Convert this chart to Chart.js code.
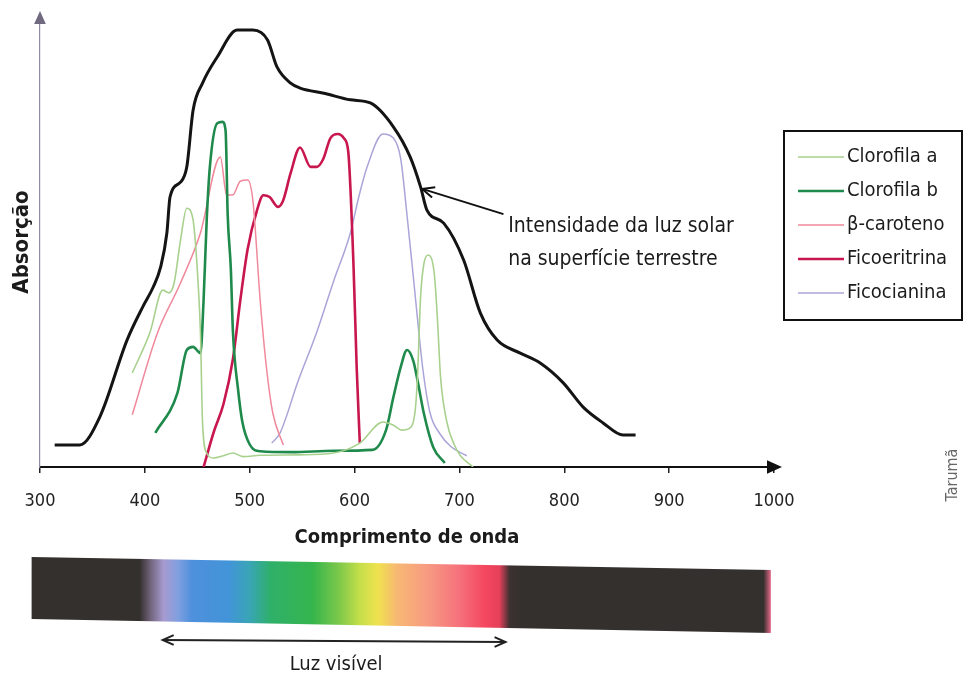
<!DOCTYPE html>
<html>
<head>
<meta charset="utf-8">
<script src="https://cdn.jsdelivr.net/npm/chart.js@4.4.1/dist/chart.umd.min.js"></script>
<style>
  body { margin: 0; background: #fff; }
  canvas { display: block; }
</style>
</head>
<body>
<canvas id="myChart" width="964" height="680"></canvas>
<script>
// wavelength axis (nm) and absorption (arbitrary units, 0-100)
const xMin = 300;
const xMax = 1000;
const xStep = 100;

const solarNm  = [314, 338, 357, 383, 398, 408, 415, 421, 424, 434, 440, 446, 455, 469, 488, 503, 517, 526, 539, 548, 572, 596, 615, 637, 653, 663, 669, 685, 704, 720, 736, 758, 777, 799, 818, 837, 856, 868];
const solarAbs = [4.9, 4.9, 11.1, 28.2, 35.6, 40, 44.4, 52, 60, 63.3, 66.7, 79.3, 85.3, 91.1, 97.1, 97.1, 94.9, 88.9, 85.3, 84.2, 83, 81.6, 80.9, 75.6, 68.9, 62.2, 57.1, 54.2, 46, 34.2, 28.2, 25.3, 23.1, 18.7, 13.3, 9.8, 7.1, 7.1];

const chlANm  = [388, 405, 417, 423, 428, 434, 440, 446, 451, 453, 455, 459, 465, 475, 484, 494, 510, 548, 580, 605, 627, 637, 645, 653, 658, 660, 663, 666, 670, 676, 679, 682, 688, 695, 701, 713];
const chlAAbs = [20.9, 30, 39.3, 38.7, 41, 50.4, 57.5, 54.9, 40, 30, 10, 3.1, 2, 2.5, 3.1, 2.3, 2.6, 2.7, 3.1, 5.3, 10, 9.3, 8.2, 8.7, 13, 20, 38, 45, 47.1, 43, 33, 20, 10, 5, 2.5, 0];

const chlBNm  = [410, 431, 440, 446, 453, 456, 459, 462, 469, 474, 477, 479, 482, 484, 489, 493, 500, 510, 540, 580, 617, 630, 637, 644, 650, 656, 660, 666, 675, 686];
const chlBAbs = [7.6, 16.4, 26, 26.7, 25.3, 37, 55, 66.7, 76.4, 76.7, 74.7, 56, 44, 30, 17, 10, 5, 3.5, 3.3, 3.6, 3.8, 8.2, 15.5, 22.2, 26, 23.6, 19.3, 12, 4.4, 0.9];

const betaNm  = [388, 412, 434, 453, 472, 478, 484, 491, 498, 503, 510, 516, 522, 532];
const betaAbs = [11.6, 29.8, 40.9, 52, 68.9, 60.4, 60.5, 63.5, 63.8, 59.3, 37, 22, 12, 4.9];

const ficoENm  = [456, 466, 475, 484, 491, 498, 507, 513, 519, 527, 532, 539, 548, 558, 564, 570, 577, 584, 590, 594, 599, 602, 605];
const ficoEAbs = [0, 8, 14, 24, 37, 48.4, 57.1, 60.4, 60, 57.8, 59.3, 65.3, 71, 66.7, 66.7, 68.4, 73.1, 74, 73, 70, 44.7, 22.2, 5.3];

const ficoCNm  = [521, 529, 546, 564, 580, 596, 604, 612, 627, 637, 644, 650, 657, 665, 672, 681, 692, 707];
const ficoCAbs = [5.3, 7.6, 19, 30, 41.3, 52, 60, 66.7, 74, 73.1, 68.5, 56, 40, 22, 12, 7.5, 4.5, 2.5];

const seriesNames = ['Clorofila a', 'Clorofila b', 'β-caroteno', 'Ficoeritrina', 'Ficocianina'];

// spectrum strip under the axis
const spectrumNm     = [292, 395, 405, 418, 432, 445, 480, 500, 520, 560, 585, 605, 622, 640, 670, 700, 725, 738, 748, 760, 990, 997];
const spectrumColors = ['#34302e', '#34302e', '#6f6279', '#a69bd0', '#7f9fe0', '#4e90dc', '#4294d8', '#39a5b5', '#2fb06a', '#35b54c', '#7cc84a', '#c5df4a', '#efe24e', '#f7b972', '#f79a82', '#f6717b', '#f4465f', '#e6405a', '#3b3131', '#34302e', '#34302e', '#e76a8a'];

const NARROW = '"Liberation Sans Narrow", "DejaVu Sans Condensed", "Liberation Sans", sans-serif';
Chart.defaults.font.family = NARROW;
Chart.defaults.color = '#1b1b1b';

const toPoints = (xs, ys) => xs.map((x, i) => ({ x: x, y: ys[i] }));

function line(label, xs, ys, color, width, inLegend) {
    return {
        label: label,
        data: toPoints(xs, ys),
        borderColor: color,
        backgroundColor: color,
        borderWidth: width,
        pointRadius: 0,
        fill: false,
        cubicInterpolationMode: 'monotone',
        inLegend: inLegend
    };
}

function arrowHead(ctx, x, y, angle, size, filled) {
    ctx.save();
    ctx.translate(x, y);
    ctx.rotate(angle);
    ctx.beginPath();
    ctx.moveTo(-size, -size * 0.45);
    ctx.lineTo(0, 0);
    ctx.lineTo(-size, size * 0.45);
    if (filled) { ctx.closePath(); ctx.fill(); } else { ctx.stroke(); }
    ctx.restore();
}

const extras = {
    id: 'extras',
    afterDraw(chart) {
        const { ctx, chartArea: a, scales: { x, y } } = chart;
        ctx.save();

        // axis arrows
        ctx.fillStyle = '#6f6a80';
        arrowHead(ctx, a.left, a.top - 6, -Math.PI / 2, 13, true);
        ctx.fillStyle = '#111';
        arrowHead(ctx, a.right + 8, a.bottom, 0, 15, true);

        // annotation for the sunlight curve
        const tipX = x.getPixelForValue(664.5), tipY = y.getPixelForValue(61.8);
        const fromX = x.getPixelForValue(742), fromY = y.getPixelForValue(56.2);
        ctx.strokeStyle = '#111';
        ctx.lineWidth = 2;
        ctx.beginPath();
        ctx.moveTo(fromX, fromY);
        ctx.lineTo(tipX, tipY);
        ctx.stroke();
        arrowHead(ctx, tipX, tipY, Math.atan2(tipY - fromY, tipX - fromX), 12, false);
        ctx.fillStyle = '#1b1b1b';
        ctx.font = '21px ' + NARROW;
        ctx.textAlign = 'left';
        ctx.textBaseline = 'alphabetic';
        const tx = x.getPixelForValue(746.5);
        ctx.fillText('Intensidade da luz solar', tx, y.getPixelForValue(52.2));
        ctx.fillText('na superfície terrestre', tx, y.getPixelForValue(44.9));

        // legend box
        ctx.lineWidth = 2;
        ctx.strokeStyle = '#111';
        ctx.strokeRect(784, 131, 178, 189);
        ctx.textBaseline = 'middle';
        ctx.font = '20px ' + NARROW;
        chart.data.datasets.filter(d => d.inLegend).forEach((d, i) => {
            const ry = 157 + i * 34;
            ctx.strokeStyle = d.borderColor;
            ctx.lineWidth = d.borderWidth;
            ctx.beginPath();
            ctx.moveTo(798, ry);
            ctx.lineTo(844, ry);
            ctx.stroke();
            ctx.fillStyle = '#1b1b1b';
            ctx.fillText(d.label, 847, ry);
        });

        // spectrum strip
        const x0 = x.getPixelForValue(spectrumNm[0]);
        const x1 = x.getPixelForValue(spectrumNm[spectrumNm.length - 1]);
        const span = spectrumNm[spectrumNm.length - 1] - spectrumNm[0];
        const grad = ctx.createLinearGradient(x0, 0, x1, 0);
        spectrumNm.forEach((nm, i) => grad.addColorStop((nm - spectrumNm[0]) / span, spectrumColors[i]));
        ctx.fillStyle = grad;
        ctx.beginPath();
        ctx.moveTo(x0, 557);
        ctx.lineTo(x1, 570);
        ctx.lineTo(x1, 633);
        ctx.lineTo(x0, 619);
        ctx.closePath();
        ctx.fill();

        // visible light arrow
        const v0 = x.getPixelForValue(417), v1 = x.getPixelForValue(744);
        ctx.strokeStyle = '#222';
        ctx.lineWidth = 2;
        ctx.beginPath();
        ctx.moveTo(v0, 640);
        ctx.lineTo(v1, 642);
        ctx.stroke();
        arrowHead(ctx, v0, 640, Math.PI, 11, false);
        arrowHead(ctx, v1, 642, 0, 11, false);
        ctx.fillStyle = '#1b1b1b';
        ctx.font = '20px ' + NARROW;
        ctx.textAlign = 'center';
        ctx.fillText('Luz visível', (v0 + v1) / 2 + 2, 665);

        // credit
        ctx.save();
        ctx.translate(953, 475);
        ctx.rotate(-Math.PI / 2);
        ctx.fillStyle = '#666';
        ctx.font = '16px ' + NARROW;
        ctx.fillText('Tarumã', 0, 0);
        ctx.restore();

        ctx.restore();
    }
};

const ctx = document.getElementById('myChart').getContext('2d');
const chart = new Chart(ctx, {
    type: 'line',
    data: {
        datasets: [
            line('Intensidade da luz solar', solarNm, solarAbs, '#141414', 3, false),
            line(seriesNames[0], chlANm, chlAAbs, '#a9d18e', 1.6, true),
            line(seriesNames[1], chlBNm, chlBAbs, '#1f8a4c', 2.6, true),
            line(seriesNames[2], betaNm, betaAbs, '#f0899b', 1.5, true),
            line(seriesNames[3], ficoENm, ficoEAbs, '#c8174f', 2.6, true),
            line(seriesNames[4], ficoCNm, ficoCAbs, '#aaa5d8', 1.5, true)
        ]
    },
    options: {
        responsive: false,
        animation: false,
        devicePixelRatio: 1,
        layout: { padding: { left: 0, right: 190, top: 17, bottom: 130 } },
        plugins: { legend: { display: false }, tooltip: { enabled: false } },
        scales: {
            x: {
                type: 'linear',
                min: xMin,
                max: xMax,
                afterFit: s => { s.height = 83; },
                ticks: { stepSize: xStep, autoSkip: false, padding: 18, font: { size: 18 }, color: '#222', callback: v => String(v) },
                grid: { drawOnChartArea: false, tickLength: 6, color: '#222', lineWidth: 1.5 },
                border: { color: '#111', width: 2 },
                title: { display: true, text: 'Comprimento de onda', font: { size: 20, weight: 'bold' }, padding: { top: 0, bottom: 0 }, color: '#1b1b1b' }
            },
            y: {
                min: 0,
                max: 100,
                afterFit: s => { s.width = 40; },
                ticks: { display: false },
                grid: { display: false },
                border: { color: '#8f88a6', width: 1.2 },
                title: { display: true, text: 'Absorção', font: { size: 22, weight: 'bold' }, padding: { top: 9, bottom: 0 }, color: '#1b1b1b' }
            }
        }
    },
    plugins: [extras]
});
</script>
</body>
</html>
